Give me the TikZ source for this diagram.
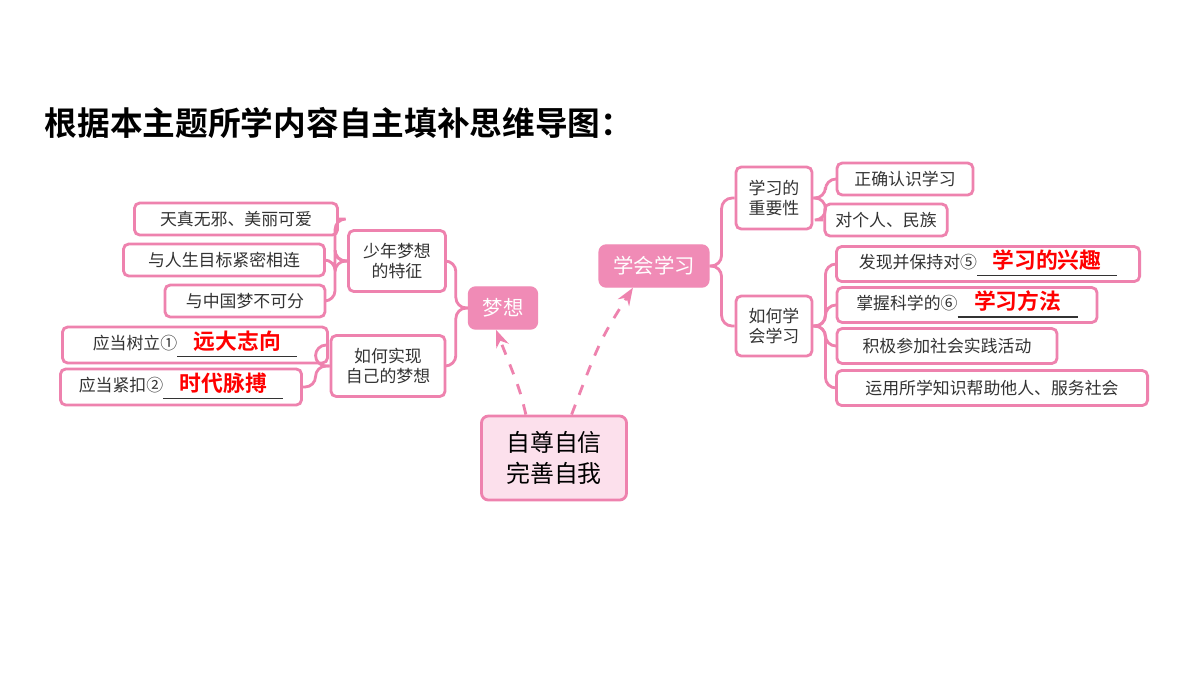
\documentclass[tikz,border=0pt]{standalone}
\usepackage{fontspec}
\setmainfont{Noto Sans CJK SC}[BoldFont={Noto Sans CJK SC Bold}]
\usetikzlibrary{positioning,calc,arrows.meta}
\definecolor{pinkline}{HTML}{EE82AE}
\definecolor{pinkfill}{HTML}{F08BB6}
\definecolor{pinklight}{HTML}{FCE0EC}
\newcommand{\blank}[2]{\underline{\hbox to #1{\hss\textcolor{red}{\bfseries\fontsize{6.2}{7}\selectfont #2}\hss}}}
\tikzset{
  leaf/.style={draw=pinkline, line width=0.8pt, rounded corners=1.5pt, fill=white,
    inner xsep=3pt, inner ysep=0.5pt, minimum height=0.32cm, font=\fontsize{4.8}{5.6}\selectfont, text=black!80},
  branch/.style={leaf, align=center, inner sep=1pt},
  topic/.style={draw=pinkfill, fill=pinkfill, rounded corners=2pt, text=white,
    minimum height=0.42cm, inner xsep=4pt, inner ysep=1pt, font=\fontsize{5.8}{6.8}\selectfont},
  link/.style={draw=pinkline, line width=0.8pt},
  dashlink/.style={draw=pinkline, line width=0.8pt, dashed, -{Stealth[length=5pt]}}
}
\begin{document}
\begin{tikzpicture}[x=0.01cm, y=-0.01cm]
\useasboundingbox (0,0) rectangle (1200,675);
\fill[white] (0,0) rectangle (1200,675);

\node[anchor=west, inner sep=0pt, font=\fontsize{9.3}{11}\selectfont\bfseries] (title) at (44,123) {根据本主题所学内容自主填补思维导图：};

% centre
\node[draw=pinkline, fill=pinklight, line width=0.8pt, rounded corners=2pt, align=center, inner sep=1pt,
  minimum width=1.45cm, minimum height=0.84cm, font=\fontsize{6.8}{8.6}\selectfont] (core) at (554,458) {自尊自信\\完善自我};
\node[topic] (dream) at (503,308) {梦想};
\node[topic] (learn) at (654,266) {学会学习};

% left side
\node[branch, minimum width=0.97cm, minimum height=0.61cm] (trait) at (397,261) {少年梦想\\的特征};
\node[branch, minimum width=1.14cm, minimum height=0.61cm] (how) at (388,366) {如何实现\\自己的梦想};
\node[leaf, minimum width=2.03cm] (l1) at (236,219) {天真无邪、美丽可爱};
\node[leaf, minimum width=2.01cm] (l2) at (224,260) {与人生目标紧密相连};
\node[leaf, minimum width=1.60cm] (l3) at (245,301) {与中国梦不可分};
\node[leaf, minimum width=2.65cm, minimum height=0.36cm] (l4) at (195,345) {应当树立①\blank{1.2cm}{远大志向}};
\node[leaf, minimum width=2.41cm, minimum height=0.36cm] (l5) at (181,387) {应当紧扣②\blank{1.2cm}{时代脉搏}};

% right side
\node[branch, minimum width=0.76cm, minimum height=0.62cm] (imp) at (774,198) {学习的\\重要性};
\node[branch, minimum width=0.76cm, minimum height=0.60cm] (way) at (774,326) {如何学\\会学习};
\node[leaf, minimum width=1.36cm] (r1) at (905,179) {正确认识学习};
\node[leaf, minimum width=0.98cm] (r2) at (886,220) {对个人、民族};
\node[leaf, minimum width=3.03cm, minimum height=0.35cm] (r3) at (988,264) {发现并保持对⑤\blank{1.4cm}{学习的兴趣}};
\node[leaf, minimum width=2.60cm, minimum height=0.35cm] (r4) at (967,305) {掌握科学的⑥\blank{1.2cm}{学习方法}};
\node[leaf, minimum width=2.20cm, minimum height=0.35cm] (r5) at (947,346) {积极参加社会实践活动};
\node[leaf, minimum width=3.11cm, minimum height=0.35cm] (r6) at (992,388) {运用所学知识帮助他人、服务社会};

% brackets
\foreach \c in {trait,how} \draw[link, rounded corners=3pt] (dream.west) -- ++(-12,0) |- (\c.east);
\foreach \c in {l1,l2,l3} \draw[link, rounded corners=3pt] (trait.west) -- ++(-12,0) |- (\c.east);
\foreach \c in {l4,l5} \draw[link, rounded corners=3pt] (how.west) -- ++(-14,0) |- (\c.east);
\foreach \c in {imp,way} \draw[link, rounded corners=3pt] (learn.east) -- ++(12,0) |- (\c.west);
\foreach \c in {r1,r2} \draw[link, rounded corners=3pt] (imp.east) -- ++(12,0) |- (\c.west);
\foreach \c in {r3,r4,r5,r6} \draw[link, rounded corners=3pt] (way.east) -- ++(12,0) |- (\c.west);

% dashed arrows
\draw[dashlink] ([xshift=-8pt]core.north) .. controls (520,390) .. ([xshift=-2pt]dream.south);
\draw[dashlink] ([xshift=5pt]core.north) .. controls (600,340) .. ([xshift=-6pt]learn.south);
\end{tikzpicture}
\end{document}
